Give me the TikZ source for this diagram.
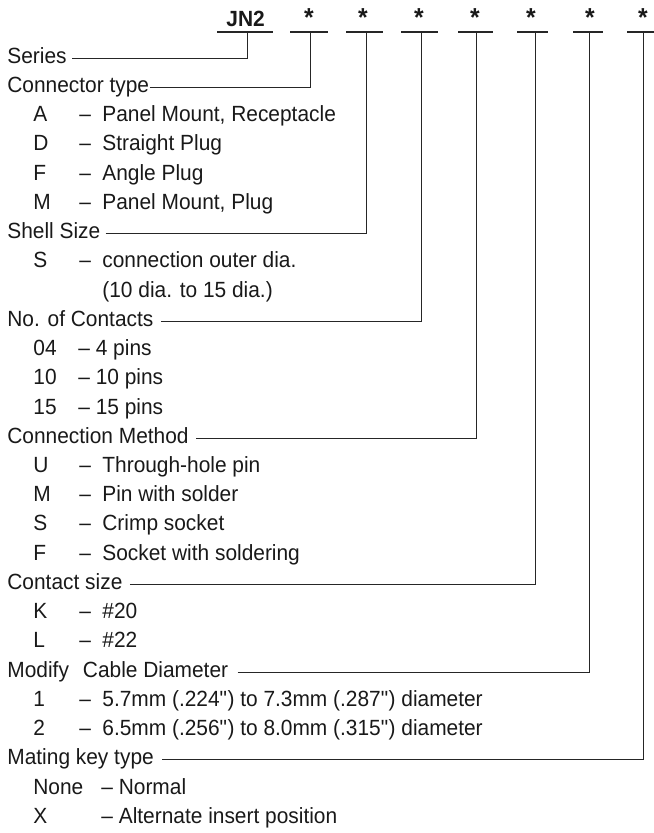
\documentclass[tikz,border=0pt]{standalone}
\usepackage{fontspec}
\setmainfont[FakeStretch=0.95]{Liberation Sans}

\begin{document}
\begin{tikzpicture}[x=0.5pt, y=-0.5pt,
    every node/.style={inner sep=0pt, text height=7.5pt, text depth=2.5pt,
      font=\fontsize{11}{12}\selectfont, text=black!90},
    head/.style={anchor=base west},
    item/.style={anchor=base west},
    bar/.style={line width=1pt, black!85},
    lead/.style={line width=0.5pt, black!85}]
  \useasboundingbox (0,0) rectangle (653,833);
  % part number
  \node[anchor=base west, font=\fontsize{11}{12}\selectfont\bfseries] (jn) at (226,27) {JN2};
  \foreach \i/\x in {1/309, 2/363, 3/419, 4/475, 5/531, 6/590, 7/643} {
    \node[anchor=base, font=\fontsize{13}{13}\selectfont\bfseries] (s\i) at (\x,27) {*};
  }
  \foreach \i/\x/\l/\r in {0/247/217/273, 1/310/290/328, 2/366/346/383, 3/421/401/438,
                           4/476/458/493, 5/535/517/548, 6/589/573/603, 7/643/627/660} {
    \coordinate (b\i) at (\x,32);
    \draw[bar] (\l,32) -- (\r,32);
  }
  % headings
  \node[head] (series) at (7,63.3) {Series};
  \node[head] (ctype) at (7,92.5) {Connector type};
  \node[head] (shell) at (7,238.7) {Shell Size};
  \node[head] (contacts) at (7,326.4) {No. of Contacts};
  \node[head] (method) at (7,443.3) {Connection Method};
  \node[head] (csize) at (7,589.4) {Contact size};
  \node[head] (cable) at (7,677.1) {Modify\hspace{7pt}Cable Diameter};
  \node[head] (key) at (7,764.8) {Mating key type};
  % leads
  \draw[lead] ([xshift=2.5pt]series.east) -| (b0);
  \draw[lead] (ctype.east) -| (b1);
  \draw[lead] ([xshift=2.5pt]shell.east) -| (b2);
  \draw[lead] ([xshift=3.5pt]contacts.east) -| (b3);
  \draw[lead] ([xshift=3.5pt]method.east) -| (b4);
  \draw[lead] ([xshift=3.5pt]csize.east) -| (b5);
  \draw[lead] ([xshift=4.5pt]cable.east) -| (b6);
  \draw[lead] ([xshift=4pt]key.east) -| (b7);
  % options
  \foreach \n/\c/\t in {2/A/{Panel Mount, Receptacle}, 3/D/Straight Plug, 4/F/Angle Plug,
      5/M/{Panel Mount, Plug}, 7/S/connection outer dia., 14/U/Through-hole pin,
      15/M/Pin with solder, 16/S/Crimp socket, 17/F/Socket with soldering,
      19/K/\#20, 20/L/\#22,
      22/1/{5.7mm (.224\textquotedbl) to 7.3mm (.287\textquotedbl) diameter},
      23/2/{6.5mm (.256\textquotedbl) to 8.0mm (.315\textquotedbl) diameter}} {
    \node[item] (c\n) at (33,{63.3+29.23*\n}) {\c};
    \node[item] (d\n) at (79,{63.3+29.23*\n}) {–};
    \node[item] (t\n) at (102,{63.3+29.23*\n}) {\t};
  }
  \node[item] (t8) at (102,297.1) {(10 dia. to 15 dia.)};
  \foreach \n/\c/\t in {10/04/4 pins, 11/10/10 pins, 12/15/15 pins} {
    \node[item] (c\n) at (33,{63.3+29.23*\n}) {\c};
    \node[item] (t\n) at (78,{63.3+29.23*\n}) {– \t};
  }
  \foreach \n/\c/\t in {25/None/Normal, 26/X/Alternate insert position} {
    \node[item] (c\n) at (33,{63.3+29.23*\n}) {\c};
    \node[item] (t\n) at (101,{63.3+29.23*\n}) {– \t};
  }
\end{tikzpicture}
\end{document}
